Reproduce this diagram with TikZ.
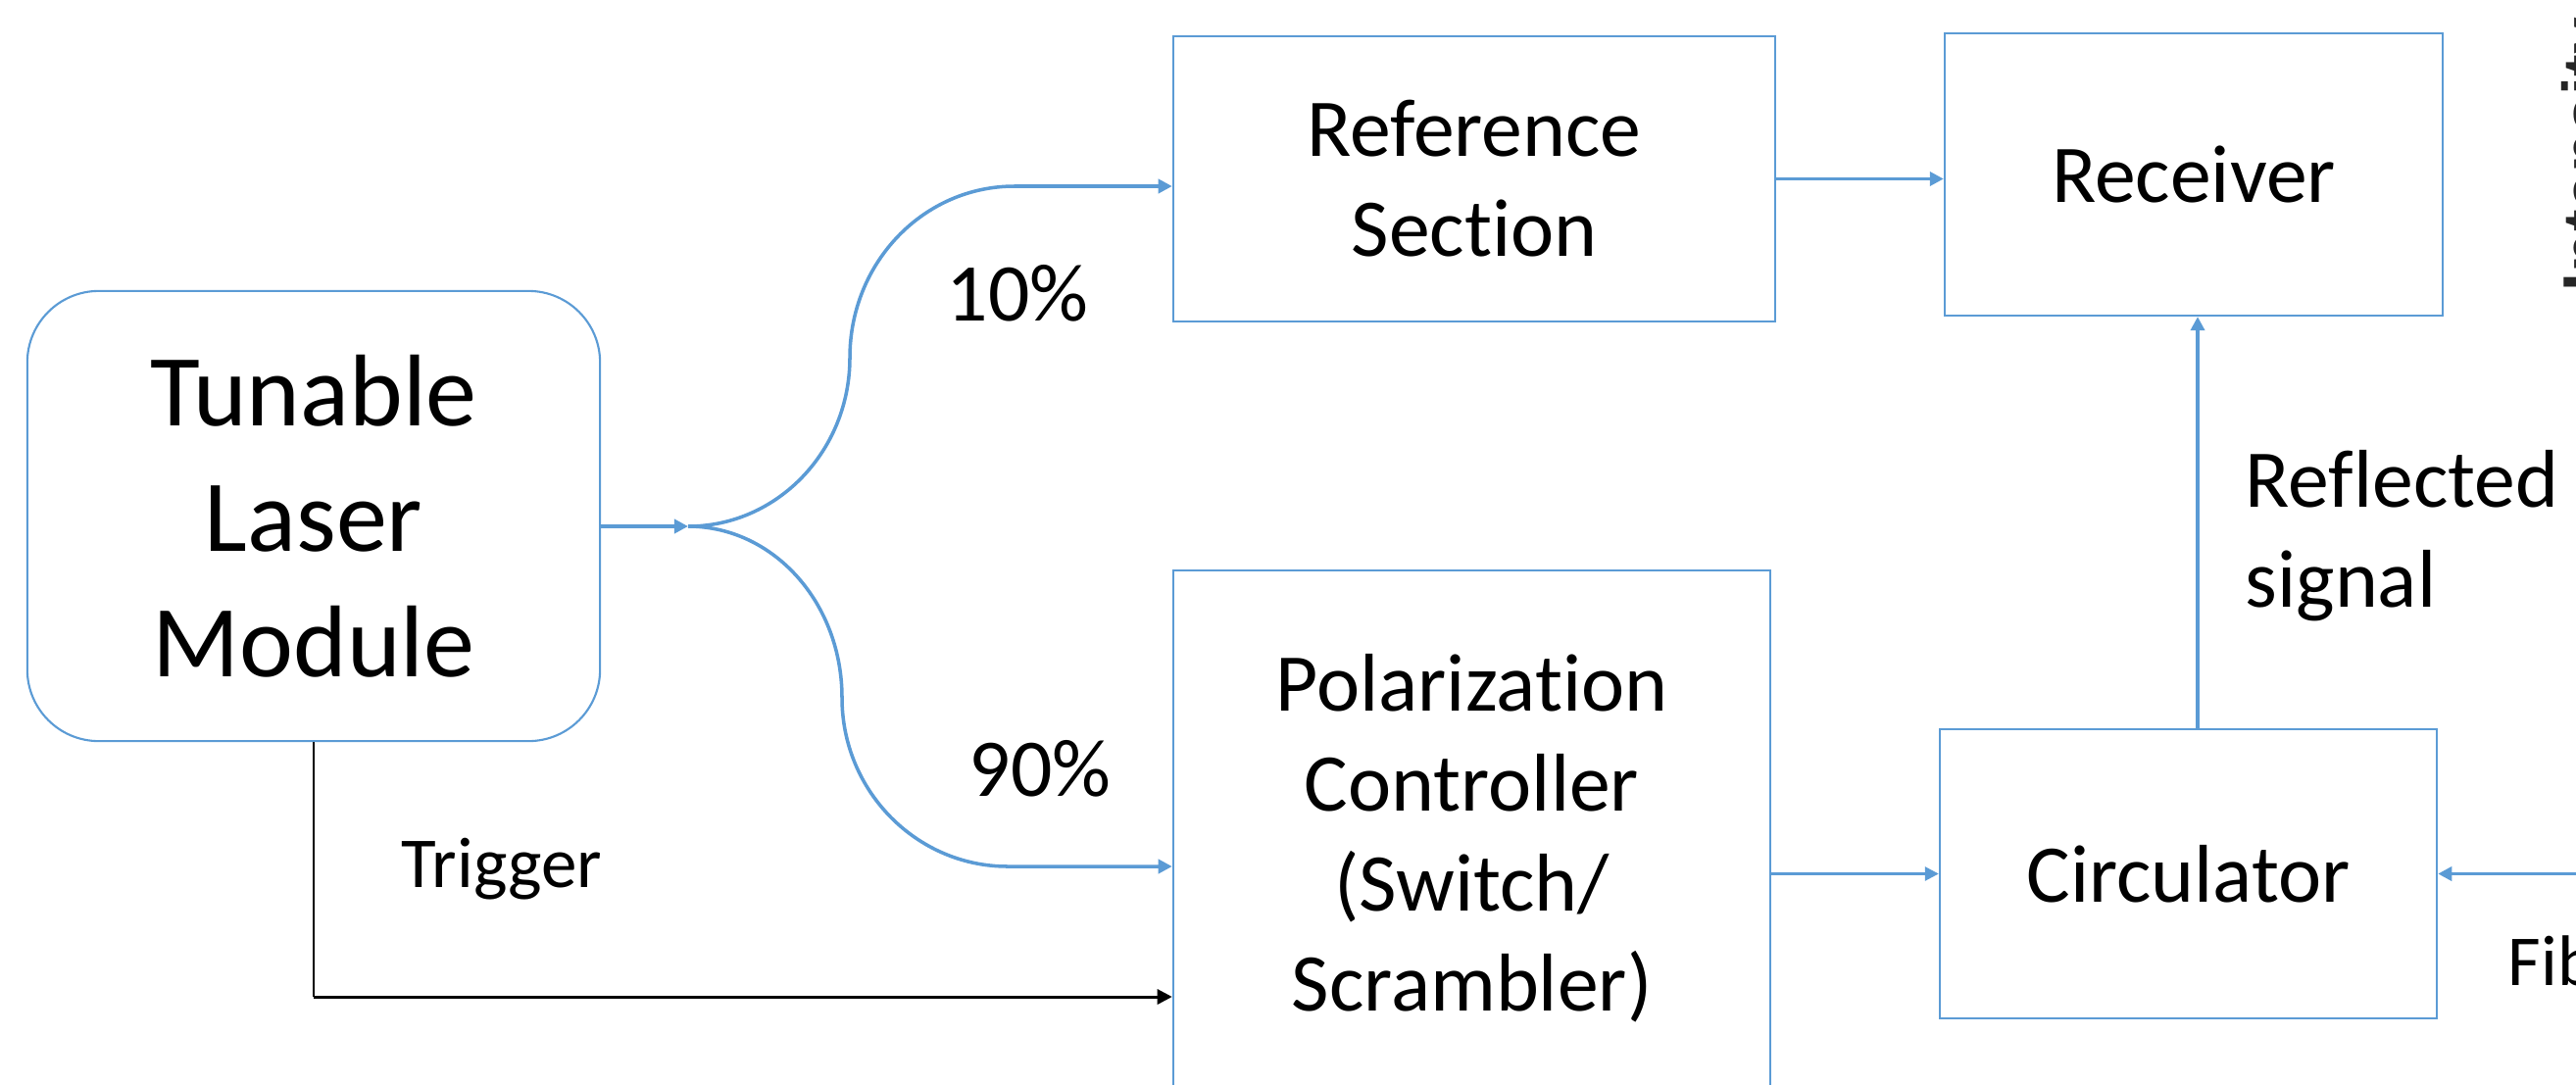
\documentclass[tikz,border=0pt]{standalone}
\usepackage{fontspec}
\setmainfont{Carlito}[Ligatures=NoCommon]
\newfontfamily\axissans{Liberation Sans}
\usetikzlibrary{arrows.meta}
\definecolor{office}{HTML}{5B9BD5}
\definecolor{axisgray}{HTML}{262626}
\begin{document}
\begin{tikzpicture}[x=0.01cm,y=-0.01cm,
  box/.style={draw=office, line width=0.6pt, inner sep=0pt, align=center,
              font=\fontsize{23.8pt}{29pt}\selectfont},
  lbl/.style={inner sep=0pt, font=\fontsize{23.8pt}{29pt}\selectfont},
  smalllbl/.style={inner sep=0pt, font=\fontsize{20.8pt}{25pt}\selectfont},
  conn/.style={draw=office, line width=1pt, -{Triangle[length=4pt,width=4pt]}},
  trig/.style={draw=black, line width=0.85pt, -{Triangle[length=4.3pt,width=4.3pt]}}]
\fill[white] (0,0) rectangle (2628,1106);
\useasboundingbox (0,0) rectangle (2628,1106);

% blocks
\node[box, rounded corners=0.73cm, minimum width=5.84cm, minimum height=4.59cm,
      font=\fontsize{29.6pt}{36.4pt}\selectfont] (laser) at (320,526.5) {Tunable\\Laser\\Module};
\node[box, minimum width=6.14cm, minimum height=2.91cm] (ref) at (1504,182.5) {Reference\\Section};
\node[box, minimum width=5.08cm, minimum height=2.88cm] (rec) at (2238,178) {Receiver};
\node[box, minimum width=6.09cm, minimum height=5.46cm] (pol) at (1501.5,855) {Polarization\\Controller\\(Switch/\\Scrambler)};
\node[box, minimum width=5.07cm, minimum height=2.95cm] (circ) at (2232.5,891.5) {Circulator};

% labels
\node[lbl, anchor=base] (p10) at (1038,327) {10\%};
\node[lbl, anchor=base] (p90) at (1061,812) {90\%};
\node[smalllbl, anchor=base west] (trigtext) at (409,905) {Trigger};
\node[lbl, anchor=north west, align=left] (refl) at (2290,459) {Reflected\\signal};
\node[smalllbl, anchor=base west] (fib) at (2558,1005) {Fib};
\node[rotate=90, anchor=north west, inner sep=0pt, text=axisgray,
      font=\axissans\bfseries\fontsize{19.3pt}{23pt}\selectfont] (inten) at (2613,298) {Intensity};

% coordinates
\coordinate (split) at (702,537);
\coordinate (upend) at (1035,190);
\coordinate (lowend) at (1028,884);
\coordinate (trigc) at (320,1017);
\coordinate (vx) at (2242,0);
\coordinate (fibin) at (2640,891.5);

% splitter
\draw[conn] (laser.east |- split) -- (split);
\draw[conn] (split) .. controls (793,537) and (867,460) .. (867,365)
                    .. controls (867,268) and (942,190) .. (upend) -- (ref.west |- upend);
\draw[conn] (split) .. controls (789,537) and (859,615) .. (859,712)
                    .. controls (859,807) and (935,884) .. (lowend) -- (pol.west |- lowend);

% trigger
\draw[black, line width=0.35pt] (laser.south) -- (trigc);
\draw[trig] (trigc) -- (pol.west |- trigc);

% other connectors
\draw[conn] (ref.east) -- (ref.east -| rec.west);
\draw[conn, line width=0.75pt] (pol.east |- circ.west) -- (circ.west);
\draw[conn, line width=1.2pt] (circ.north -| vx) -- (rec.south -| vx);
\draw[conn] (fibin) -- (circ.east);
\end{tikzpicture}
\end{document}
